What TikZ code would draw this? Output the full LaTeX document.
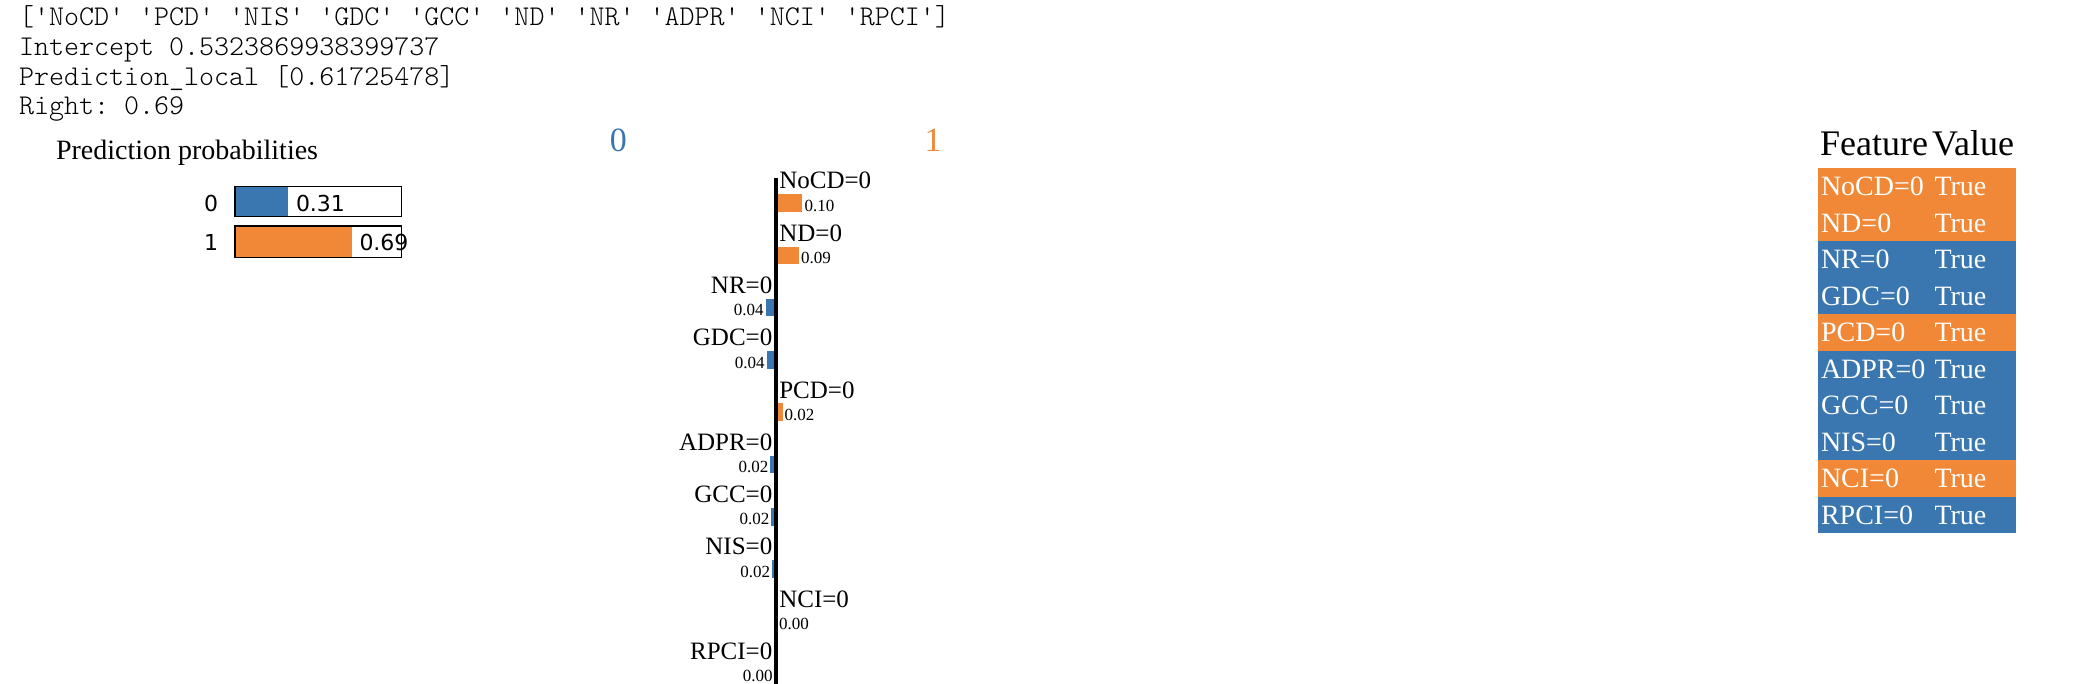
\documentclass[tikz,border=0pt]{standalone}
\usepackage{fontspec}
\setmainfont{Liberation Serif}
\setmonofont{Latin Modern Mono Light}
\newfontfamily\verd{DejaVu Sans}
\definecolor{negblue}{RGB}{58,118,175}
\definecolor{posorange}{RGB}{240,136,55}

\begin{document}
\begin{tikzpicture}[x=1pt,y=-1pt,
  every node/.style={inner sep=0pt,outer sep=0pt},
  code/.style={anchor=base west,font=\ttfamily\fontsize{28.6}{28.6}\selectfont},
  posfeat/.style={anchor=base west,font=\fontsize{25}{25}\selectfont},
  negfeat/.style={anchor=base east,font=\fontsize{25}{25}\selectfont},
  posval/.style={anchor=base west,font=\fontsize{17}{17}\selectfont},
  negval/.style={anchor=base east,font=\fontsize{17}{17}\selectfont},
  cell/.style={anchor=base west,text=white,font=\fontsize{28}{28}\selectfont},
  proba/.style={font=\verd\fontsize{22}{22}\selectfont}]

\useasboundingbox (0,0) rectangle (2100,684);

\node[code] (L1) at (19,25.5) {['NoCD' 'PCD' 'NIS' 'GDC' 'GCC' 'ND' 'NR' 'ADPR' 'NCI' 'RPCI']};
\node[code] (L2) at (19,55.3) {Intercept 0.5323869938399737};
\node[code] (L3) at (19,85.2) {Prediction\_local [0.61725478]};
\node[code] (L4) at (19,115) {Right: 0.69};

\node[anchor=base west,font=\fontsize{28}{28}\selectfont] (title) at (56,159.3) {Prediction probabilities};

\node[proba,anchor=base east] (P0) at (218,211.7) {0};
\node[proba,anchor=base east] (P1) at (218,251) {1};
\fill[negblue] (235,186.7) rectangle (287.5,216.7);
\draw[line width=1.2pt] (235,186.7) rectangle (401.7,216.7);
\fill[posorange] (235,226) rectangle (351.7,257.3);
\draw[line width=1.2pt] (235,226) rectangle (401.7,257.3);
\node[proba,anchor=base west] (V0) at (296,211.7) {0.31};
\node[proba,anchor=base west] (V1) at (359.5,251) {0.69};

\node[anchor=base,text=negblue,font=\fontsize{34}{34}\selectfont] (C0) at (618.3,151.7) {0};
\node[anchor=base,text=posorange,font=\fontsize{34}{34}\selectfont] (C1) at (933,151.7) {1};

\coordinate (axtop) at (775.9,178.3);
\coordinate (axbot) at (775.9,684);
\draw[line width=3.5pt] (axtop) -- (axbot);

\fill[posorange] (778,194.3) rectangle (802.3,212);
\fill[posorange] (778,246.6) rectangle (799,264.3);
\fill[negblue] (765.7,298.8) rectangle (774.2,316.5);
\fill[negblue] (766.7,351.1) rectangle (774.2,368.8);
\fill[posorange] (778,403.3) rectangle (783,421);
\fill[negblue] (770,455.6) rectangle (774.2,473.3);
\fill[negblue] (771,507.9) rectangle (774.2,525.6);
\fill[negblue] (772,560.1) rectangle (774.2,577.8);

\node[posfeat] (F1) at (779.3,189) {NoCD=0};
\node[posfeat] (F2) at (779.3,241.3) {ND=0};
\node[negfeat] (F3) at (772.3,293.5) {NR=0};
\node[negfeat] (F4) at (772.3,345.8) {GDC=0};
\node[posfeat] (F5) at (779.3,398) {PCD=0};
\node[negfeat] (F6) at (772.3,450.3) {ADPR=0};
\node[negfeat] (F7) at (772.3,502.6) {GCC=0};
\node[negfeat] (F8) at (772.3,554.8) {NIS=0};
\node[posfeat] (F9) at (779.3,607.1) {NCI=0};
\node[negfeat] (F10) at (772.3,659.3) {RPCI=0};

\node[posval] (W1) at (804.5,211.3) {0.10};
\node[posval] (W2) at (801,263.6) {0.09};
\node[negval] (W3) at (763.5,315.8) {0.04};
\node[negval] (W4) at (764.5,368.1) {0.04};
\node[posval] (W5) at (784.5,420.3) {0.02};
\node[negval] (W6) at (768.3,472.6) {0.02};
\node[negval] (W7) at (769.3,524.9) {0.02};
\node[negval] (W8) at (770.2,577.1) {0.02};
\node[posval] (W9) at (779,629.4) {0.00};
\node[negval] (W10) at (772.7,681.6) {0.00};

\node[anchor=base west,font=\fontsize{36}{36}\selectfont] (HF) at (1820,156) {Feature};
\node[anchor=base west,font=\fontsize{36}{36}\selectfont] (HV) at (1932,156) {Value};

\fill[posorange] (1818.3,168.3) rectangle (2016,241.3);
\fill[negblue] (1818.3,241.3) rectangle (2016,314.3);
\fill[posorange] (1818.3,314.3) rectangle (2016,350.8);
\fill[negblue] (1818.3,350.8) rectangle (2016,460.3);
\fill[posorange] (1818.3,460.3) rectangle (2016,496.8);
\fill[negblue] (1818.3,496.8) rectangle (2016,533.3);

\node[cell] (T1) at (1821,195.8) {NoCD=0};
\node[cell] (T2) at (1821,232.3) {ND=0};
\node[cell] (T3) at (1821,268.8) {NR=0};
\node[cell] (T4) at (1821,305.3) {GDC=0};
\node[cell] (T5) at (1821,341.8) {PCD=0};
\node[cell] (T6) at (1821,378.3) {ADPR=0};
\node[cell] (T7) at (1821,414.8) {GCC=0};
\node[cell] (T8) at (1821,451.3) {NIS=0};
\node[cell] (T9) at (1821,487.8) {NCI=0};
\node[cell] (T10) at (1821,524.3) {RPCI=0};

\node[cell] (U1) at (1934.5,195.8) {True};
\node[cell] (U2) at (1934.5,232.3) {True};
\node[cell] (U3) at (1934.5,268.8) {True};
\node[cell] (U4) at (1934.5,305.3) {True};
\node[cell] (U5) at (1934.5,341.8) {True};
\node[cell] (U6) at (1934.5,378.3) {True};
\node[cell] (U7) at (1934.5,414.8) {True};
\node[cell] (U8) at (1934.5,451.3) {True};
\node[cell] (U9) at (1934.5,487.8) {True};
\node[cell] (U10) at (1934.5,524.3) {True};
\end{tikzpicture}
\end{document}
